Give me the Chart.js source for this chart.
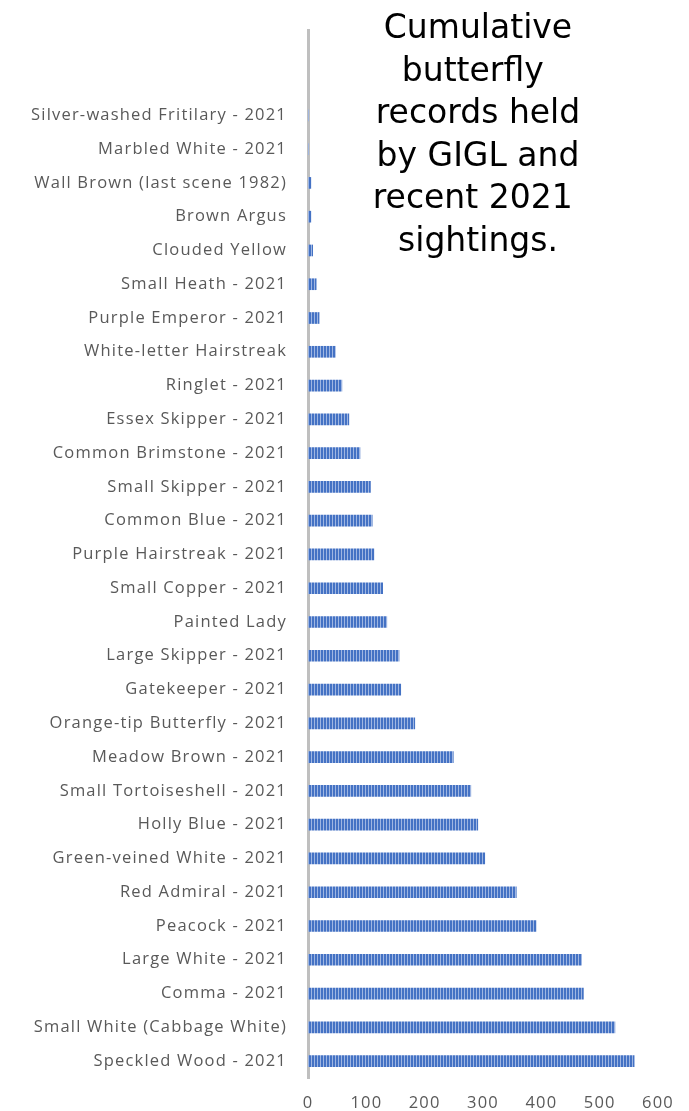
<!DOCTYPE html>
<html>
<head>
<meta charset="utf-8">
<script src="https://cdn.jsdelivr.net/npm/chart.js@4"></script>
<style>
  html, body { margin: 0; padding: 0; background: #fff; }
  #wrap { position: relative; width: 689px; height: 1111px; }
  #title {
    position: absolute; left: 358px; top: 6px; width: 240px;
    font-family: "DejaVu Sans", sans-serif;
    font-size: 33px; line-height: 42.5px; color: #000;
    text-align: center; white-space: pre;
  }
</style>
</head>
<body>
<div id="wrap">
  <canvas id="butterfly-chart" width="689" height="1111"></canvas>
  <div id="title">Cumulative
butterfly 
records held
by GIGL and
recent 2021 
sightings.</div>
</div>
<script>
// two blank rows at the top, as in the source sheet
const species = [
  '', '',
  'Silver-washed Fritilary - 2021',
  'Marbled White - 2021',
  'Wall Brown (last scene 1982)',
  'Brown Argus',
  'Clouded Yellow',
  'Small Heath - 2021',
  'Purple Emperor - 2021',
  'White-letter Hairstreak',
  'Ringlet - 2021',
  'Essex Skipper - 2021',
  'Common Brimstone - 2021',
  'Small Skipper - 2021',
  'Common Blue - 2021',
  'Purple Hairstreak - 2021',
  'Small Copper - 2021',
  'Painted Lady',
  'Large Skipper - 2021',
  'Gatekeeper - 2021',
  'Orange-tip Butterfly - 2021',
  'Meadow Brown - 2021',
  'Small Tortoiseshell - 2021',
  'Holly Blue - 2021',
  'Green-veined White - 2021',
  'Red Admiral - 2021',
  'Peacock - 2021',
  'Large White - 2021',
  'Comma - 2021',
  'Small White (Cabbage White)',
  'Speckled Wood - 2021'
];
const records = [null, null, 1, 1, 5, 5, 8, 14, 19, 47, 58, 70, 89, 107, 110, 113,
  128, 135, 156, 159, 183, 249, 279, 291, 303, 357, 391, 469, 472, 526, 559];
const xTicks = [0, 100, 200, 300, 400, 500, 600];

function stripePattern(ctx) {
  const c = document.createElement('canvas');
  c.width = 3; c.height = 4;
  const p = c.getContext('2d');
  p.fillStyle = '#4472C4';
  p.fillRect(0, 0, 3, 4);
  p.fillStyle = '#9FB6E2';
  p.fillRect(2, 0, 1, 4);
  return ctx.createPattern(c, 'repeat');
}

// the source labels are set loosely, so widen the canvas text a bit
const letterSpacing = {
  id: 'letterSpacing',
  beforeUpdate: chart => { chart.ctx.letterSpacing = '1.2px'; },
  beforeDraw: chart => { chart.ctx.letterSpacing = '1.2px'; }
};

document.addEventListener('DOMContentLoaded', () => {
  const ctx = document.getElementById('butterfly-chart').getContext('2d');
  const labelFont = { family: '"Open Sans", sans-serif', size: 16.5 };

  new Chart(ctx, {
    type: 'bar',
    data: {
      labels: species,
      datasets: [{
        data: records,
        backgroundColor: stripePattern(ctx),
        borderWidth: 0,
        barThickness: 11
      }]
    },
    plugins: [letterSpacing],
    options: {
      indexAxis: 'y',
      responsive: false,
      animation: false,
      layout: { padding: { top: 29, right: 29, left: 0, bottom: 0 } },
      plugins: { legend: { display: false }, tooltip: { enabled: false } },
      scales: {
        x: {
          min: 0, max: 600,
          afterBuildTicks: s => { s.ticks = xTicks.map(v => ({ value: v })); },
          afterFit: s => { s.height = 33; },
          grid: { display: false, drawTicks: false },
          border: { display: false },
          ticks: { color: '#595959', font: labelFont, padding: 15 }
        },
        y: {
          z: 1,
          afterFit: s => { s.width = 308; },
          grid: { display: false, drawTicks: false },
          border: { display: true, color: '#BFBFBF', width: 3 },
          ticks: { color: '#595959', font: labelFont, padding: 21, autoSkip: false }
        }
      }
    }
  });
});
</script>
</body>
</html>
